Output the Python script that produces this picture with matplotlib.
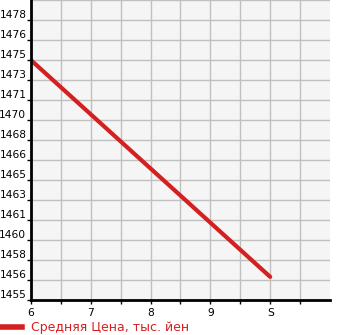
import numpy as np
import matplotlib
matplotlib.use("Agg")
from matplotlib import pyplot as plt
from matplotlib.lines import Line2D

# data
months = [6, 10]
prices = [1474.7, 1456.9]
x_ticks = [6, 7, 8, 9, 10]
x_labels = ["6", "7", "8", "9", "S"]
y_labels = ["1455", "1456", "1458", "1460", "1461", "1463", "1465", "1466",
            "1468", "1470", "1471", "1473", "1475", "1476", "1478"]
legend_label = "Средняя Цена, тыс. йен"

red = "#d42020"

fig = plt.figure(figsize=(3.45, 3.35), dpi=100)
ax = fig.add_axes([31 / 345, 35 / 335, 299 / 345, 300 / 335])
ax.set_facecolor("#f5f5f5")

y_step = (1478 - 1455) / 14
y_ticks = 1455 + y_step * np.arange(15)
ax.set_xlim(6, 11)
ax.set_ylim(1455, 1455 + 15 * y_step)

ax.set_xticks(x_ticks)
ax.set_xticklabels(x_labels)
ax.set_xticks(np.arange(6.5, 11.01, 1.0), minor=True)
ax.set_yticks(y_ticks)
ax.set_yticklabels(y_labels)
ax.set_yticks([1455 + 15 * y_step], minor=True)

ax.grid(True, which="both", color="#c0c0c0", linewidth=1)
ax.set_axisbelow(True)

for s in ["top", "right"]:
    ax.spines[s].set_visible(False)
for s in ["left", "bottom"]:
    ax.spines[s].set_linewidth(2)
    ax.spines[s].set_color("black")

ax.tick_params(axis="both", which="both", labelsize=7.7, length=3, width=1, color="black")
ax.tick_params(axis="y", which="minor", length=0)
ax.tick_params(axis="y", pad=0.3)
for lbl in ax.get_yticklabels():
    lbl.set_verticalalignment("bottom")
ax.tick_params(axis="x", pad=2.5)

ax.plot(months, prices, color=red, linewidth=3, solid_capstyle="round")

fig.lines.append(Line2D([0, 22 / 345], [8 / 335, 8 / 335], color=red, linewidth=4,
                        transform=fig.transFigure))
fig.text(31 / 345, 8 / 335, legend_label, color=red, fontsize=9, va="center", ha="left")

fig.savefig("out.png", dpi=100)
